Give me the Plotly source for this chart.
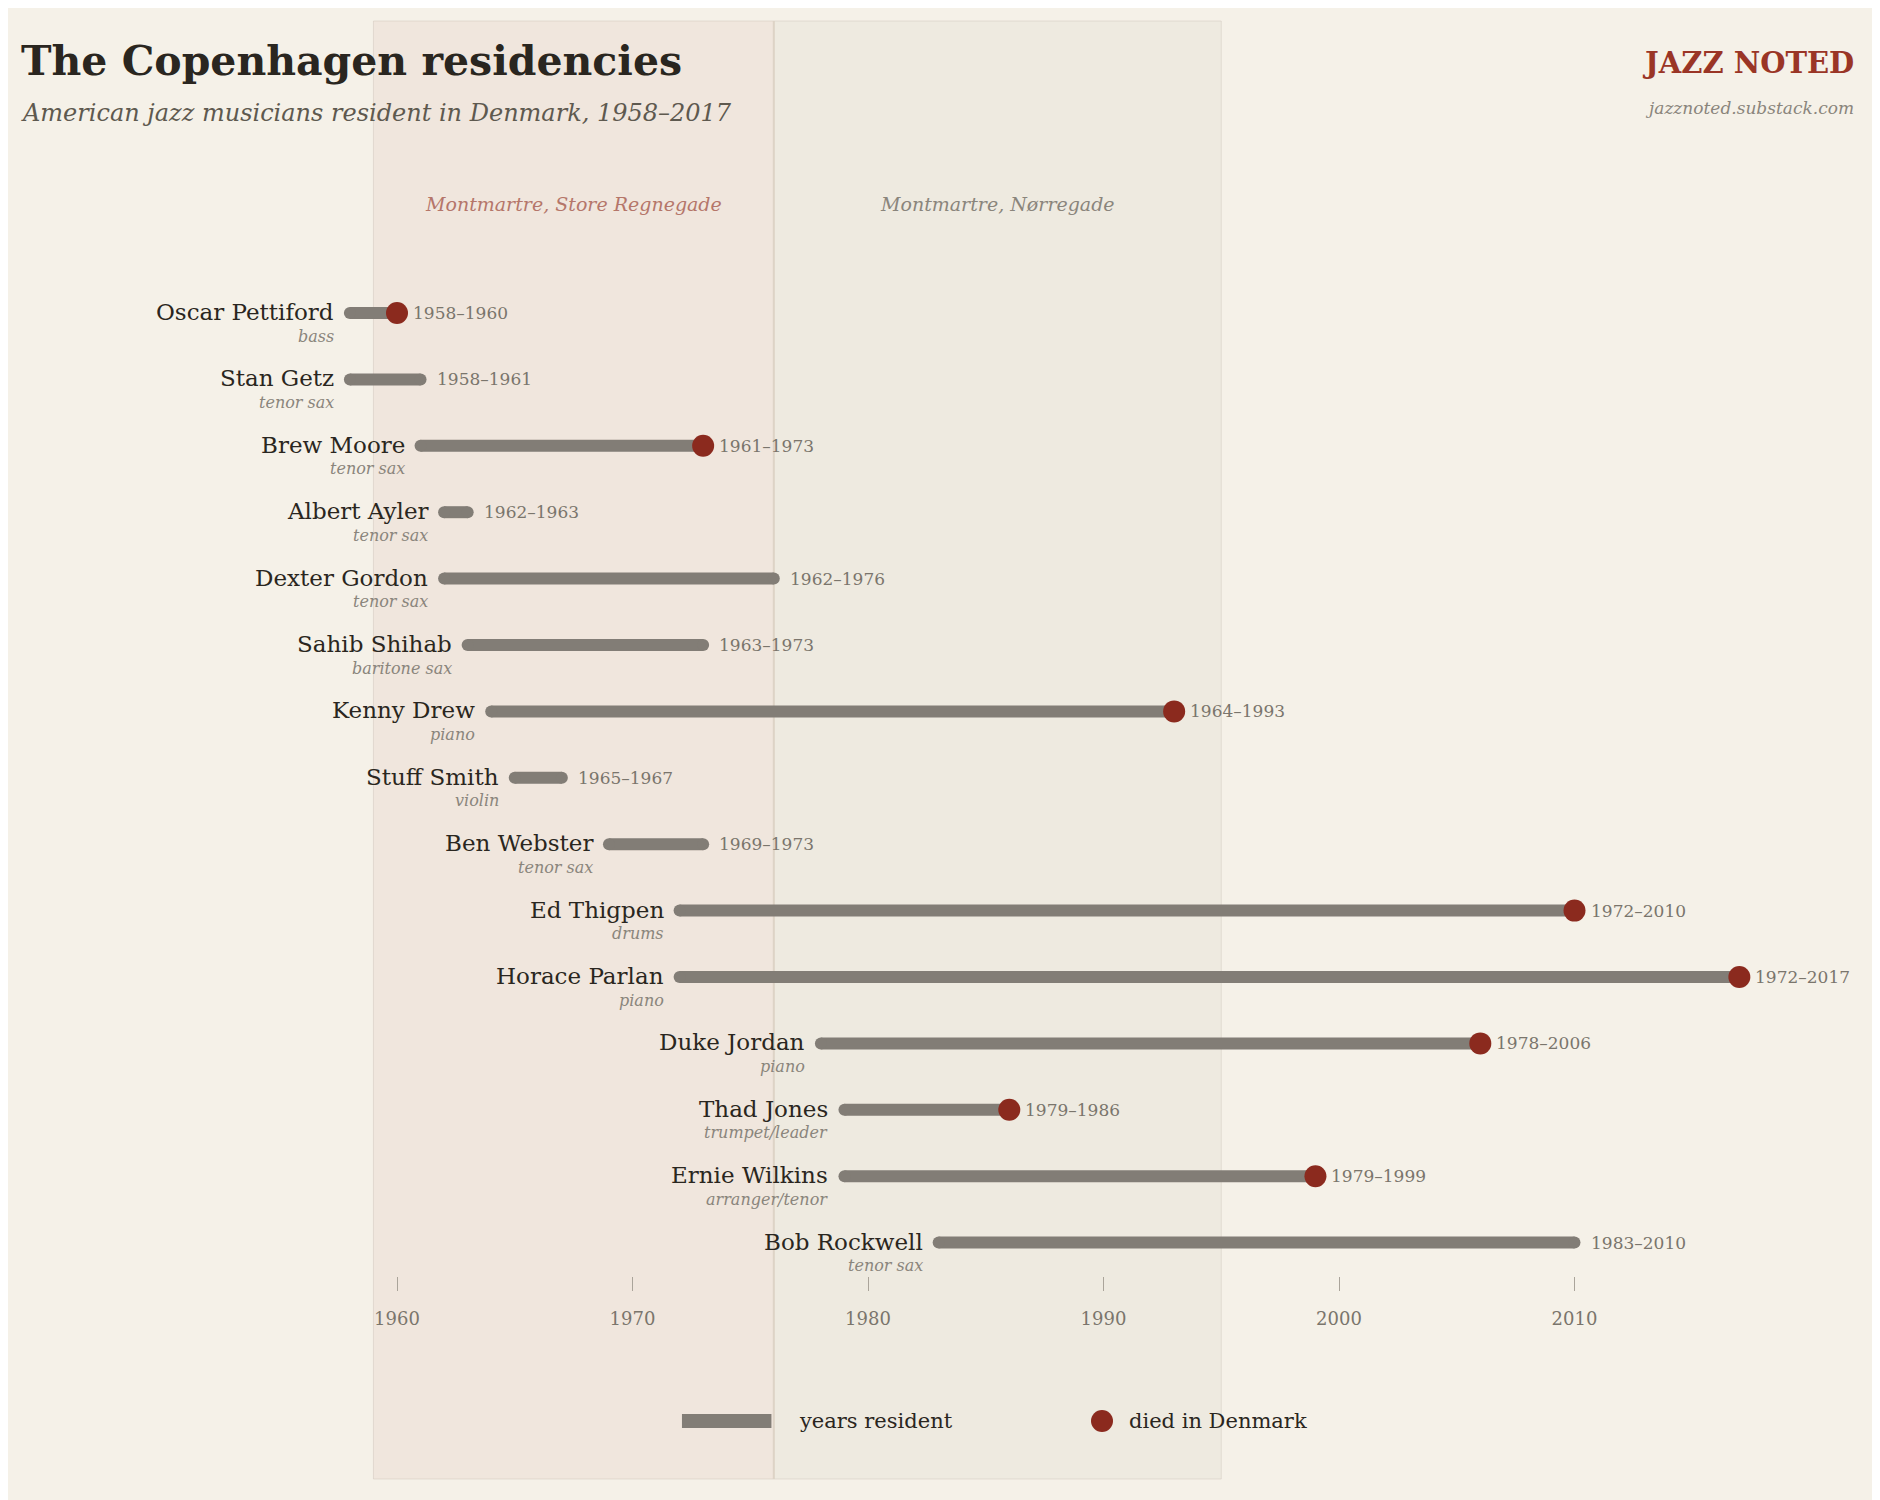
import plotly.graph_objects as go

names = ["Oscar Pettiford","Stan Getz","Brew Moore","Albert Ayler","Dexter Gordon","Sahib Shihab",
         "Kenny Drew","Stuff Smith","Ben Webster","Ed Thigpen","Horace Parlan","Duke Jordan",
         "Thad Jones","Ernie Wilkins","Bob Rockwell"]
instruments = ["bass","tenor sax","tenor sax","tenor sax","tenor sax","baritone sax","piano","violin",
               "tenor sax","drums","piano","piano","trumpet/leader","arranger/tenor","tenor sax"]
starts = [1958,1958,1961,1962,1962,1963,1964,1965,1969,1972,1972,1978,1979,1979,1983]
ends =   [1960,1961,1973,1963,1976,1973,1993,1967,1973,2010,2017,2006,1986,1999,2010]
died =   [True,False,True,False,False,False,True,False,False,True,True,True,True,True,False]
venues = [("Montmartre, Store Regnegade",1959,1976),("Montmartre, Nørregade",1976,1995)]
tick_years = [1960,1970,1980,1990,2000,2010]

BG="#f5f1e8"; BAR="#827d76"; RED="#8b2a1e"; INK="#2a2620"; GREY="#8a857c"
SERIF="DejaVu Serif"
PH=1268
OFF=7
def py(p): return 1-(p-OFF)/PH
def px(p): return (p-8)/1880

fig=go.Figure()
for i,(s,e) in enumerate(zip(starts,ends)):
    fig.add_trace(go.Scatter(x=[s,e],y=[i,i],mode="lines+markers",line=dict(color=BAR,width=12),
        marker=dict(color=BAR,size=12),hoverinfo="skip",showlegend=False))
dx=[e for e,d in zip(ends,died) if d]; dy=[i for i,d in enumerate(died) if d]
fig.add_trace(go.Scatter(x=dx,y=dy,mode="markers",marker=dict(color=RED,size=22),showlegend=False,hoverinfo="skip"))

ann=[]
for i in range(len(names)):
    ann.append(dict(x=starts[i],y=i,text=names[i],xanchor="right",yanchor="middle",xshift=-14,yshift=1,
                    showarrow=False,font=dict(family=SERIF,size=23,color=INK)))
    ann.append(dict(x=starts[i],y=i,text="<i>"+instruments[i]+"</i>",xanchor="right",yanchor="middle",xshift=-14,yshift=-23,
                    showarrow=False,font=dict(family=SERIF,size=16,color=GREY)))
    ann.append(dict(x=ends[i],y=i,text=f"{starts[i]}–{ends[i]}",xanchor="left",yanchor="middle",xshift=14,
                    showarrow=False,font=dict(family=SERIF,size=17,color="#7a756c")))
shapes=[]
cols=["#f0e6dd","#eeeae0"]; tcols=["#b5766a",GREY]
for (lab,a,b),c,tc in zip(venues,cols,tcols):
    shapes.append(dict(type="rect",xref="x",yref="paper",x0=a,x1=b,y0=py(1478),y1=py(20),fillcolor=c,
                       line=dict(color="rgba(200,190,180,0.4)",width=1),layer="below"))
    ann.append(dict(x=(a+b)/2,y=py(203),xref="x",yref="paper",text="<i>"+lab+"</i>",showarrow=False,
                    yanchor="middle",font=dict(family=SERIF,size=19,color=tc)))
shapes.append(dict(type="line",xref="x",yref="paper",x0=1976,x1=1976,y0=py(1478),y1=py(20),
                   line=dict(color="#ddd3c6",width=2),layer="below"))
# legend
ly=py(1420)
shapes.append(dict(type="line",xref="x",yref="paper",x0=1972.1,x1=1975.9,y0=ly,y1=ly,
                   line=dict(color=BAR,width=14)))
shapes.append(dict(type="circle",xref="paper",yref="paper",x0=px(1091),x1=px(1113),y0=py(1431),y1=py(1409),
                   fillcolor=RED,line=dict(width=0)))
ann.append(dict(x=px(797),y=ly,xref="paper",yref="paper",text="years resident",xanchor="left",yanchor="middle",
                showarrow=False,font=dict(family=SERIF,size=21,color=INK)))
ann.append(dict(x=px(1127),y=ly,xref="paper",yref="paper",text="died in Denmark",xanchor="left",yanchor="middle",
                showarrow=False,font=dict(family=SERIF,size=21,color=INK)))
# titles
ann+= [dict(x=px(19),y=py(60),xref="paper",yref="paper",text="<b>The Copenhagen residencies</b>",xanchor="left",
            yanchor="middle",showarrow=False,font=dict(family=SERIF,size=41,color=INK)),
       dict(x=px(19),y=py(112),xref="paper",yref="paper",text="<i>American jazz musicians resident in Denmark, 1958–2017</i>",
            xanchor="left",yanchor="middle",showarrow=False,font=dict(family=SERIF,size=24,color="#5e594f")),
       dict(x=px(1856),y=py(62),xref="paper",yref="paper",text="<b>JAZZ NOTED</b>",xanchor="right",yanchor="middle",
            showarrow=False,font=dict(family=SERIF,size=29,color="#9a3526")),
       dict(x=px(1856),y=py(107),xref="paper",yref="paper",text="<i>jazznoted.substack.com</i>",xanchor="right",
            yanchor="middle",showarrow=False,font=dict(family=SERIF,size=17,color=GREY))]

x0=1960-389/23.55
top=-(312-OFF)/66.4
fig.update_layout(width=1880,height=1500,margin=dict(l=0,r=0,t=0,b=1500-PH),paper_bgcolor=BG,plot_bgcolor="rgba(0,0,0,0)",
    xaxis=dict(range=[x0,x0+1880/23.55],tickvals=tick_years,ticks="outside",ticklen=14,tickcolor="#aaa49a",
               ticklabelstandoff=12,
               showgrid=False,zeroline=False,showline=False,tickfont=dict(family=SERIF,size=18,color="#7a756c")),
    yaxis=dict(range=[top+PH/66.4,top],visible=False),
    shapes=shapes,annotations=ann)
fig.write_html("out.html")
